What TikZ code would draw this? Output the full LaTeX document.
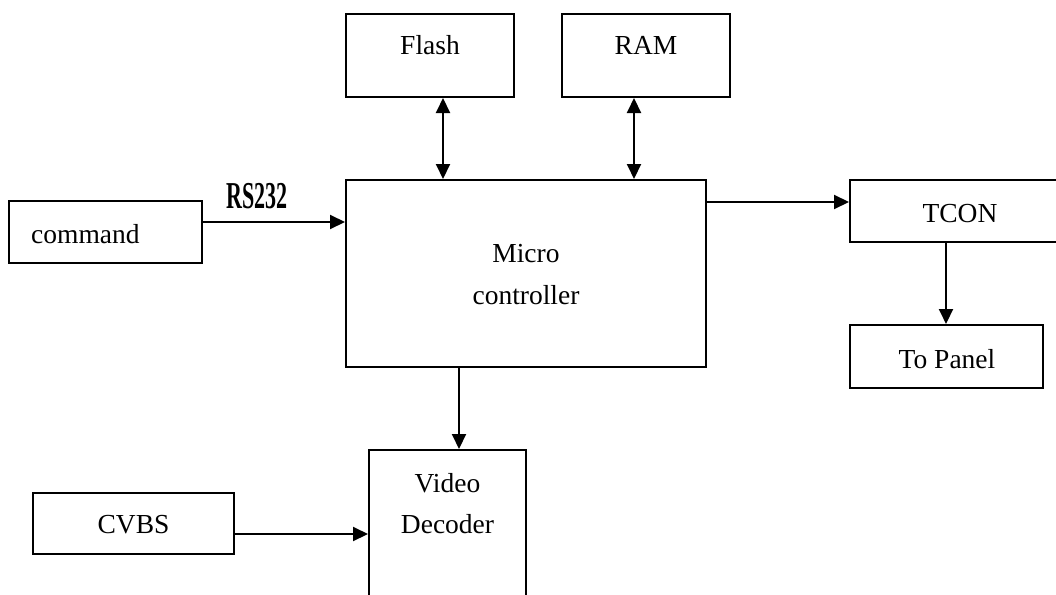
\documentclass[tikz,border=0pt]{standalone}
\usepackage{fontspec}
\setmainfont{Liberation Serif}
\usetikzlibrary{arrows.meta}
\begin{document}
\begin{tikzpicture}[x=1pt,y=-1pt,
  box/.style={draw, line width=2pt, inner sep=0pt},
  lbl/.style={inner sep=0pt, anchor=base, font=\fontsize{27.5}{30}\selectfont},
  arr/.style={line width=2pt, -{Triangle[length=15pt,width=14pt]}},
  biarr/.style={line width=2pt, {Triangle[length=15pt,width=14pt]}-{Triangle[length=15pt,width=14pt]}}]
\useasboundingbox (0,0) rectangle (1056,594);
% boxes
\node[box, minimum width=168, minimum height=83] (flash) at (430,55.5) {};
\node[box, minimum width=168, minimum height=83] (ram) at (646,55.5) {};
\node[box, minimum width=360, minimum height=187] (mc) at (526,273.5) {};
\node[box, minimum width=193, minimum height=62] (cmd) at (105.5,232) {};
\node[box, minimum width=220, minimum height=62] (tcon) at (960,211) {};
\node[box, minimum width=193, minimum height=63] (panel) at (946.5,356.5) {};
\node[box, minimum width=157, minimum height=170] (vd) at (447.5,535) {};
\node[box, minimum width=201, minimum height=61] (cvbs) at (133.5,523.5) {};
% texts
\node[lbl] (tflash) at (430,55) {Flash};
\node[lbl] (tram) at (646,55) {RAM};
\node[lbl] (tmc1) at (526,262) {Micro};
\node[lbl] (tmc2) at (526,304) {controller};
\node[lbl, anchor=base west] (tcmd) at (31,243) {command};
\node[lbl] (ttcon) at (960,222) {TCON};
\node[lbl] (tpanel) at (947,368) {To Panel};
\node[lbl] (tvd1) at (447.5,492) {Video};
\node[lbl] (tvd2) at (447.5,533) {Decoder};
\node[lbl] (tcvbs) at (133.5,533) {CVBS};
\node[inner sep=0pt, anchor=base] (rs) at (257,208) {\fontsize{38}{40}\selectfont\bfseries\scalebox{0.58}[1]{RS232}};
% connector coordinates
\coordinate (xf) at (443,0);
\coordinate (xr) at (634,0);
\coordinate (yc) at (0,222);
\coordinate (yt) at (0,202);
\coordinate (xt) at (946,0);
\coordinate (xv) at (459,0);
\coordinate (yv) at (0,534);
% connectors
\draw[biarr] (flash.south -| xf) -- (mc.north -| xf);
\draw[biarr] (ram.south -| xr) -- (mc.north -| xr);
\draw[arr] (cmd.east |- yc) -- (mc.west |- yc);
\draw[arr] (mc.east |- yt) -- (tcon.west |- yt);
\draw[arr] (tcon.south -| xt) -- (panel.north -| xt);
\draw[arr] (mc.south -| xv) -- (vd.north -| xv);
\draw[arr] (cvbs.east |- yv) -- (vd.west |- yv);
\end{tikzpicture}
\end{document}
